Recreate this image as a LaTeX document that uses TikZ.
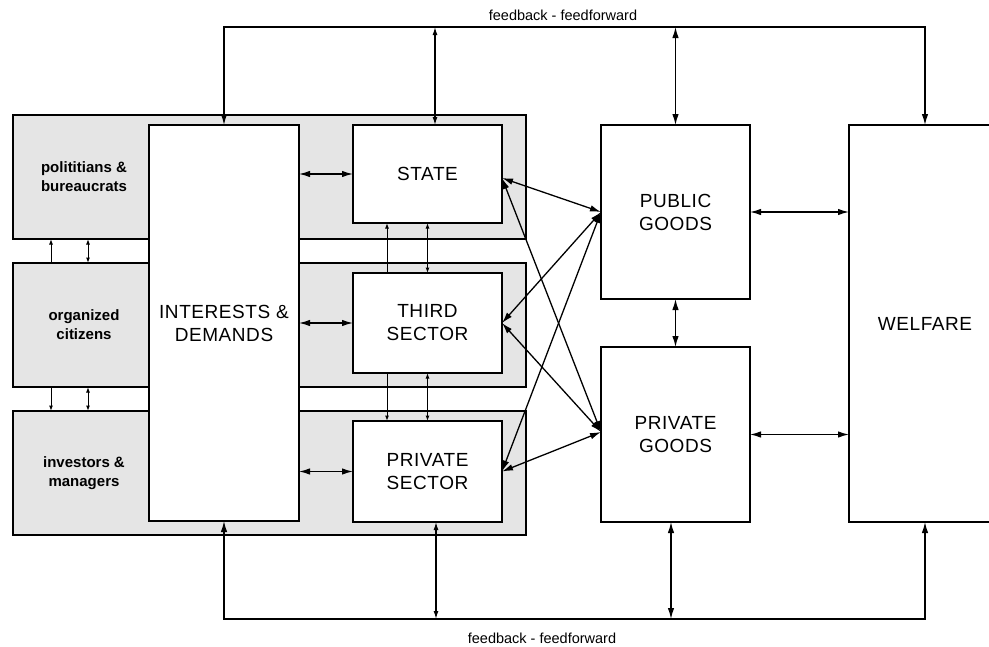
\documentclass[tikz,border=0pt]{standalone}
\usepackage{fontspec}
\setmainfont{Liberation Sans}
\newfontfamily\capsfont[LetterSpace=3]{Liberation Sans}
\usetikzlibrary{arrows.meta}
\begin{document}
\begin{tikzpicture}[x=1pt,y=-1pt,
  box/.style={draw, line width=1.5pt, fill=white, inner sep=0pt, outer sep=0pt, align=center,
    font=\capsfont\fontsize{19}{23}\selectfont},
  graybox/.style={draw, line width=1.5pt, fill=gray!20, inner sep=0pt, outer sep=0pt,
    minimum width=513pt, minimum height=124pt},
  glabel/.style={align=center, font=\bfseries\fontsize{15}{19}\selectfont},
  fblabel/.style={font=\fontsize{14.5}{17}\selectfont},
  conn/.style={line width=1.3pt},
  thin/.style={line width=1pt},
  dbl/.style={conn, {Latex[length=11pt,width=6.5pt]}-{Latex[length=11pt,width=6.5pt]}},
  sglbig/.style={conn, -{Latex[length=11pt,width=6.5pt]}},
  dblmed/.style={conn, {Latex[length=8pt,width=5pt]}-{Latex[length=8pt,width=5pt]}},
  dblsmall/.style={thin, {Latex[length=5.5pt,width=4pt]}-{Latex[length=5.5pt,width=4pt]}},
  sglsmall/.style={thin, -{Latex[length=5.5pt,width=4pt]}},
]
\useasboundingbox (0,0) rectangle (989,646);

% gray group boxes
\node[graybox] (g1) at (269.5,177) {};
\node[graybox] (g2) at (269.5,325) {};
\node[graybox] (g3) at (269.5,473) {};
\node[glabel] (l1) at (84,177) {polititians \&\\bureaucrats};
\node[glabel] (l2) at (84,325) {organized\\citizens};
\node[glabel] (l3) at (84,473) {investors \&\\managers};

% main boxes
\node[box, minimum width=150pt, minimum height=396pt] (interests) at (224,323) {INTERESTS \&\\DEMANDS};
\node[box, minimum width=149pt, minimum height=98pt] (state) at (427.5,174) {STATE};
\node[box, minimum width=149pt, minimum height=100pt] (third) at (427.5,323) {THIRD\\SECTOR};
\node[box, minimum width=149pt, minimum height=101pt] (privsec) at (427.5,471.5) {PRIVATE\\SECTOR};
\node[box, minimum width=149pt, minimum height=174pt] (pubgoods) at (675.5,212) {PUBLIC\\GOODS};
\node[box, minimum width=149pt, minimum height=175pt] (privgoods) at (675.5,434.5) {PRIVATE\\GOODS};
\node[box, minimum width=152pt, minimum height=397pt] (welfare) at (925,323.5) {WELFARE};

% feedback labels
\node[fblabel] (fbtop) at (563,15) {feedback - feedforward};
\node[fblabel] (fbbot) at (542,638) {feedback - feedforward};
\coordinate (ytop) at (0,27);
\coordinate (ybot) at (0,619);

% top feedback loop
\draw[dbl] (interests.north) -- (interests.north |- ytop) -- (welfare.north |- ytop) -- (welfare.north);
\coordinate (sx) at ([xshift=7.5pt]state.north);
\draw[dblmed] (sx |- ytop) -- (sx);
\draw[dbl] (pubgoods.north |- ytop) -- (pubgoods.north);

% bottom feedback loop
\draw[dbl] (interests.south) -- (interests.south |- ybot) -- (welfare.south |- ybot) -- (welfare.south);
\coordinate (px) at ([xshift=8.5pt]privsec.south);
\draw[dblmed] (px |- ybot) -- (px);
\coordinate (gx) at ([xshift=-4.5pt]privgoods.south);
\draw[dbl] (gx |- ybot) -- (gx);

% interests <-> sectors
\draw[dbl] (state.west -| interests.east) -- (state.west);
\draw[dbl] (third.west -| interests.east) -- (third.west);
\draw[dbl] (privsec.west -| interests.east) -- (privsec.west);

% between sectors
\draw[sglsmall] ([xshift=-40.5pt]third.north) -- ([xshift=-40.5pt]state.south);
\draw[dblsmall] (third.north) -- (state.south);
\draw[sglsmall] ([xshift=-40.5pt]third.south) -- ([xshift=-40.5pt]privsec.north);
\draw[dblsmall] (third.south) -- (privsec.north);

% between gray groups
\draw[sglsmall] ([xshift=-218.5pt]g2.north) -- ([xshift=-218.5pt]g1.south);
\draw[dblsmall] ([xshift=-181.5pt]g2.north) -- ([xshift=-181.5pt]g1.south);
\draw[sglsmall] ([xshift=-218.5pt]g2.south) -- ([xshift=-218.5pt]g3.north);
\draw[dblsmall] ([xshift=-181.5pt]g2.south) -- ([xshift=-181.5pt]g3.north);

% sectors <-> goods
\coordinate (se) at ([yshift=-4pt]state.east);
\coordinate (pgw) at ([yshift=2.5pt]privgoods.west);
\draw[dbl] (se) -- (pubgoods.west);
\draw[dbl] (se) -- (pgw);
\draw[dbl] (third.east) -- (pubgoods.west);
\draw[dbl] (third.east) -- (pgw);
\draw[dbl] (privsec.east) -- (pubgoods.west);
\draw[dbl] (privsec.east) -- (pgw);

% goods <-> welfare
\draw[dbl] (pubgoods.south) -- (privgoods.north);
\draw[dbl] (pubgoods.east) -- (pubgoods.east -| welfare.west);
\draw[dbl] (privgoods.east) -- (privgoods.east -| welfare.west);
\end{tikzpicture}
\end{document}
